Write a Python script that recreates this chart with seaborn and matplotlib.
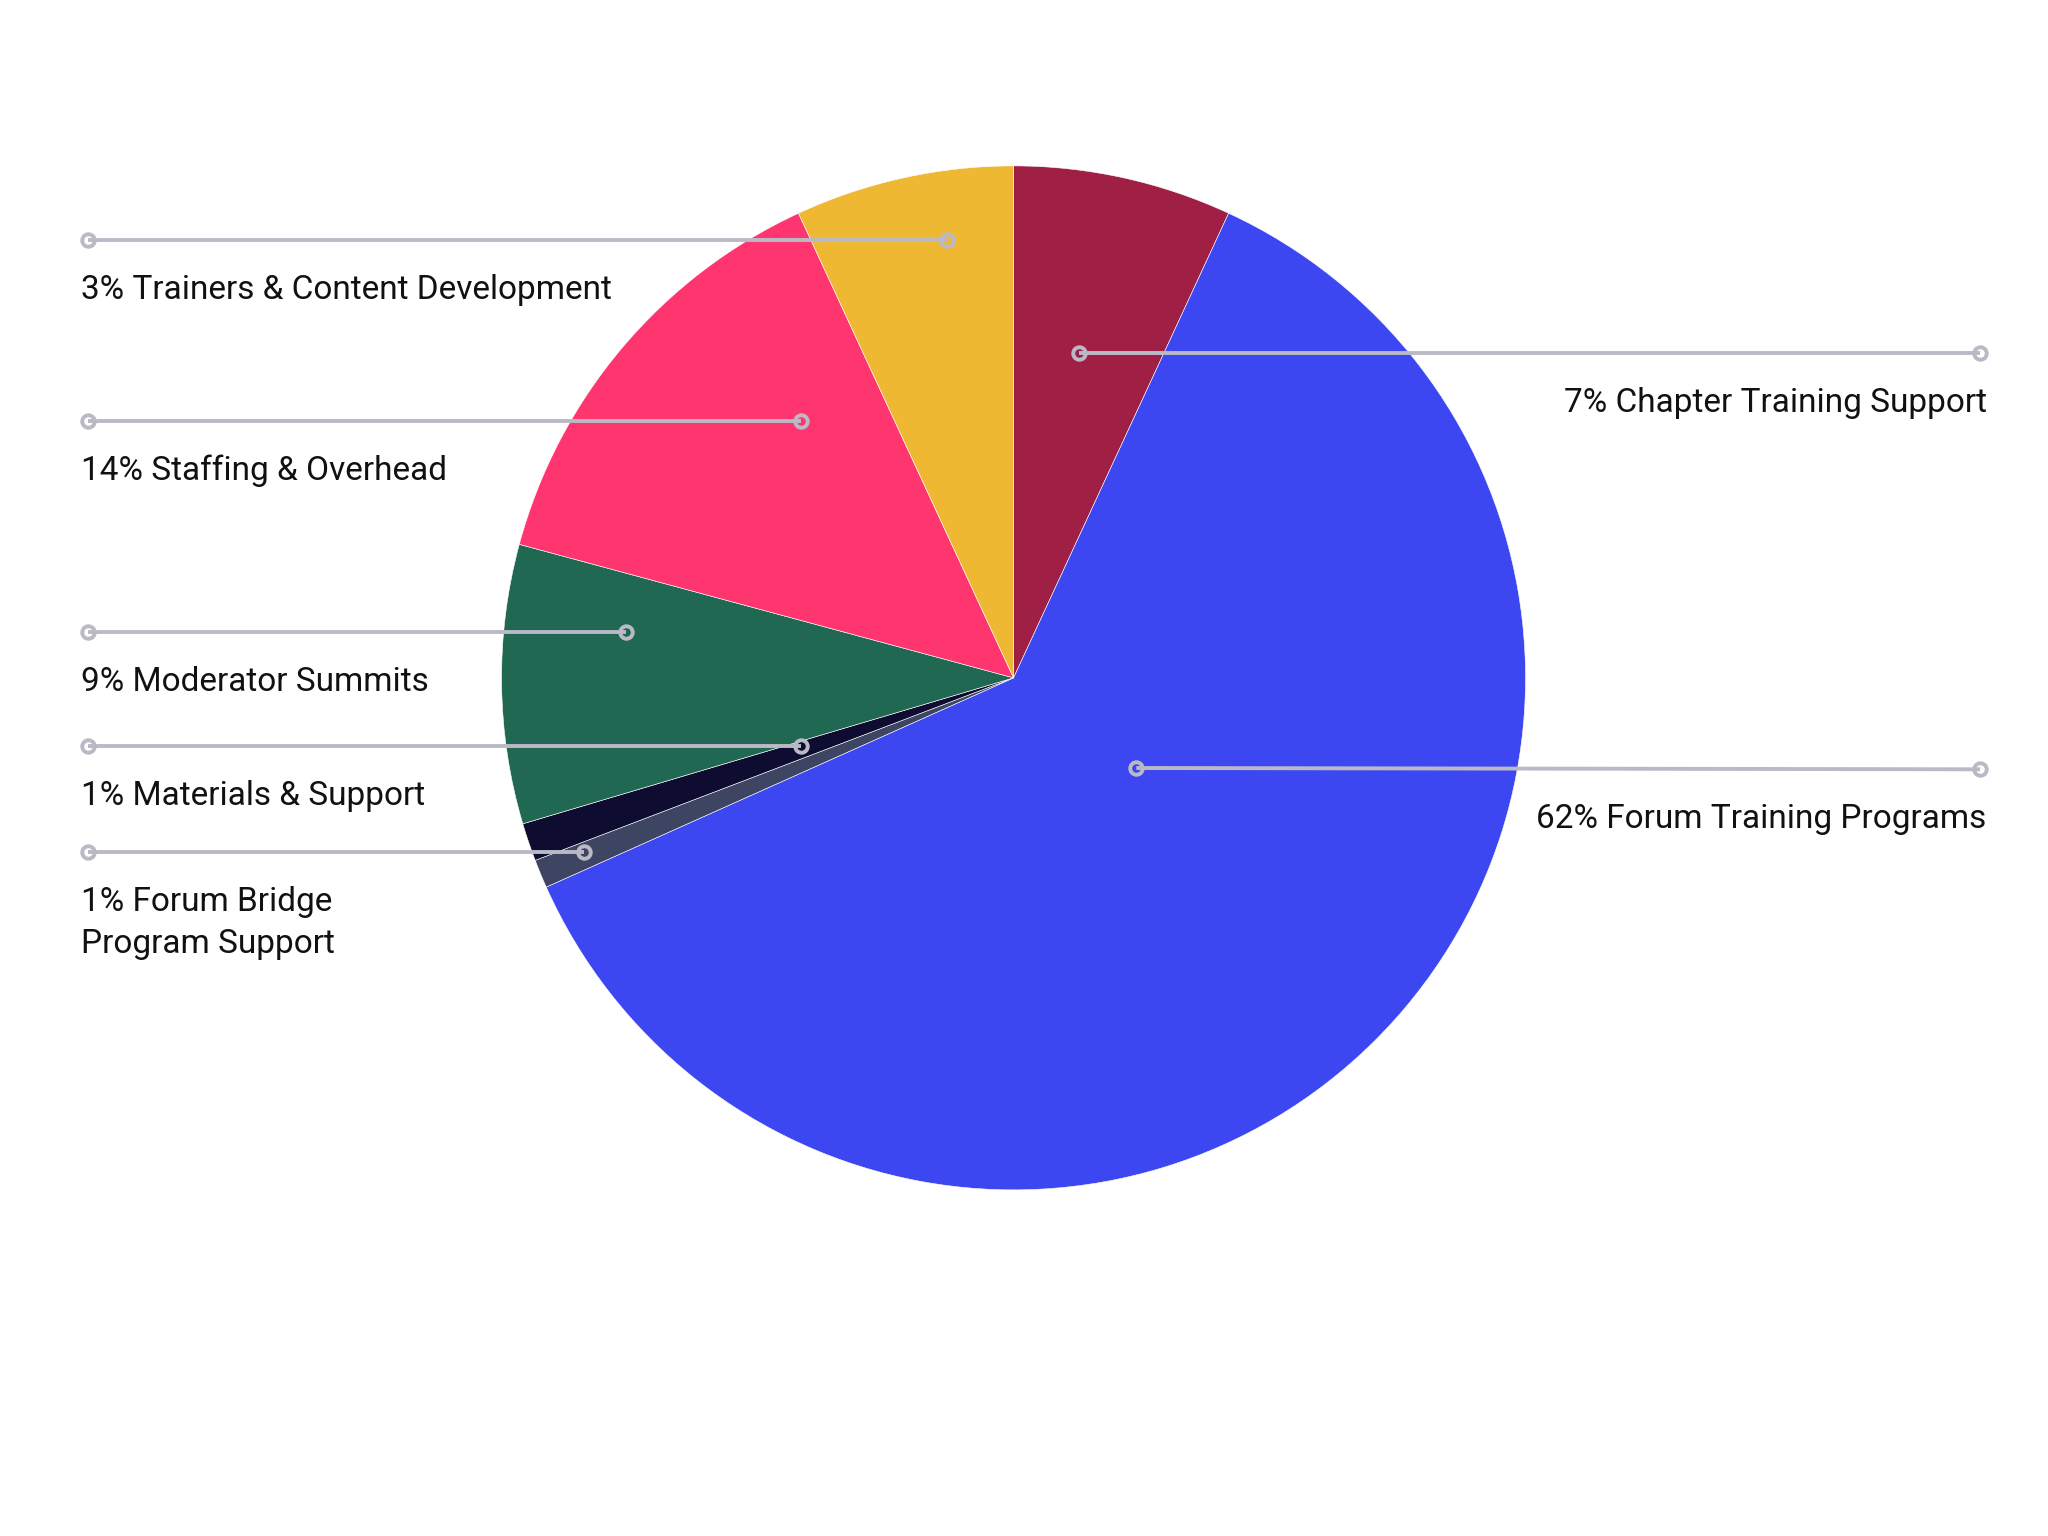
import numpy as np
import seaborn as sns
from matplotlib import pyplot as plt

sns.set_theme(style='white')
plt.rcParams['font.family'] = ['Roboto', 'DejaVu Sans']

#%% data (clockwise from 12 o'clock)
categories = ['Chapter Training Support', 'Forum Training Programs', 'Forum Bridge Program Support',
              'Materials & Support', 'Moderator Summits', 'Staffing & Overhead',
              'Trainers & Content Development']
shares = [6.9, 61.4, 0.9, 1.2, 8.8, 13.9, 6.9]
labels = ['7% Chapter Training Support', '62% Forum Training Programs',
          '1% Forum Bridge\nProgram Support', '1% Materials & Support',
          '9% Moderator Summits', '14% Staffing & Overhead',
          '3% Trainers & Content Development']
colors = ['#A02045', '#3D47F1', '#3E4563', '#0E0C30', '#216853', '#FF356F', '#EFB832']

#%% layout (canvas units, y measured from top)
W, H = 1568, 1176
cx, cy, R = 776, 519, 392
# marker inside slice, outer end of leader, side of label
leaders = {
    'Chapter Training Support': ((826, 270), (1516, 270), 'right'),
    'Forum Training Programs': ((870, 588), (1516, 589), 'right'),
    'Forum Bridge Program Support': ((447, 652), (67, 652), 'left'),
    'Materials & Support': ((613, 571), (67, 571), 'left'),
    'Moderator Summits': ((479, 484), (67, 484), 'left'),
    'Staffing & Overhead': ((613, 322), (67, 322), 'left'),
    'Trainers & Content Development': ((725, 184), (67, 184), 'left'),
}

fig = plt.figure(figsize=(20.48, 15.36), dpi=100)
ax = fig.add_axes([0, 0, 1, 1])

ax.pie(shares, colors=colors, startangle=90, counterclock=False,
       center=(cx, H - cy), radius=R,
       wedgeprops=dict(edgecolor='#ffffff', linewidth=0.4))

line_col = '#BABAC6'
for cat, lab in zip(categories, labels):
    (mx, my), (ex, ey), side = leaders[cat]
    ax.plot([mx, ex], [H - my, H - ey], color=line_col, lw=2.8, solid_capstyle='butt', zorder=3)
    for px, py in [(mx, my), (ex, ey)]:
        ax.plot(px, H - py, 'o', ms=9, mfc='none', mec=line_col, mew=2.8, zorder=4)
    x = 62 if side == 'left' else 1521
    ax.text(x, H - ey - 26, lab, ha=side, va='top', fontsize=24,
            color='#111111', linespacing=1.42)

ax.set_xlim(0, W)
ax.set_ylim(0, H)
ax.set_aspect('equal')
ax.axis('off')

fig.savefig('out.png', dpi=100, facecolor='white')
